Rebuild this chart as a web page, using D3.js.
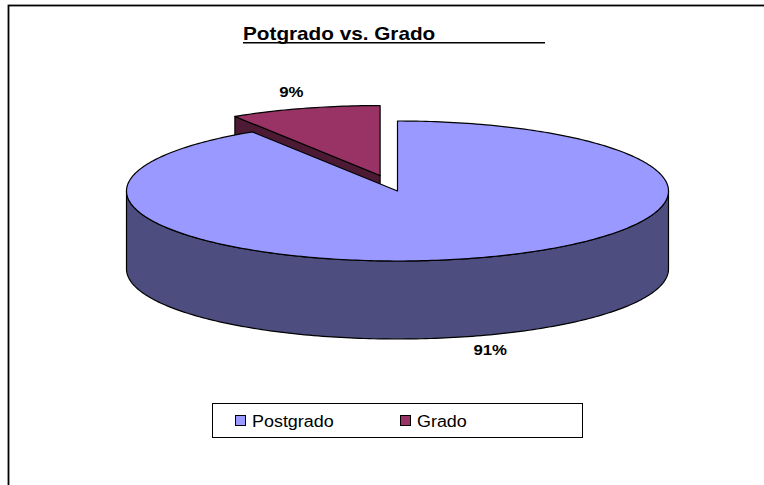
<!DOCTYPE html>
<html>
<head>
<meta charset="utf-8">
<script src="https://cdn.jsdelivr.net/npm/d3@7"></script>
<style>
  html, body { margin: 0; padding: 0; background: #fff; }
  svg { display: block; }
  text { font-family: "Liberation Sans", Arial, sans-serif; fill: #000; }
</style>
</head>
<body>
<svg id="chart" width="764" height="485"></svg>
<script>
// chart data
const categories = ['Postgrado', 'Grado'];
const values = [91, 9];
const chartTitle = 'Potgrado vs. Grado';

// look
const topColors = ['#9999ff', '#993366'];
const sideColors = ['#4d4d7f', '#4d1a33'];
const exploded = { Grado: 0.23 };
const stretchX = 1.12; // the original text is drawn a bit wide

var svg = d3.select('#chart');
var cs = { cx: 397.5, cy: 191, rx: 271, ry: 70, depth: 78 };

// outer frame (runs past the right and bottom edges)
svg.append('rect')
  .attr('x', 8.5).attr('y', 5.5)
  .attr('width', 900).attr('height', 700)
  .attr('fill', 'none')
  .attr('stroke', '#000')
  .attr('stroke-width', 1.8);

var stretch = sel => {
  sel.each(function () {
    var len = this.getComputedTextLength();
    d3.select(this)
      .attr('textLength', len * stretchX)
      .attr('lengthAdjust', 'spacingAndGlyphs');
  });
  return sel;
};

// title
svg.append('text')
  .attr('x', 243).attr('y', 39.5)
  .attr('font-size', 18.5)
  .attr('font-weight', 'bold')
  .text(chartTitle)
  .call(stretch);
svg.append('line')
  .attr('x1', 243).attr('x2', 545)
  .attr('y1', 42.8).attr('y2', 42.8)
  .attr('stroke', '#000')
  .attr('stroke-width', 1.6);

/**
 * 3D pie helpers: angles follow d3.pie (0 at 12 o'clock, clockwise)
 */
var pie = d3.pie().sort(null).value(d => d.value);
var slices = pie(categories.map((c, i) => ({ name: c, value: values[i], i: i })));
var total = d3.sum(values);
var pct = d3.format('.0%');
var line = d3.line();

var pt = (a, off, dy) => [
  cs.cx + off[0] + cs.rx * Math.sin(a),
  cs.cy + off[1] - cs.ry * Math.cos(a) + (dy || 0)
];
var arcPts = (a0, a1, off, dy) => {
  var n = Math.max(2, Math.ceil(Math.abs(a1 - a0) / (Math.PI / 180)));
  return d3.range(n + 1).map(k => pt(a0 + (a1 - a0) * k / n, off, dy));
};

slices.forEach(s => {
  var mid = (s.startAngle + s.endAngle) / 2;
  var e = exploded[s.data.name] || 0;
  s.mid = mid;
  s.off = [cs.rx * e * Math.sin(mid), -cs.ry * e * Math.cos(mid)];
});

// back slices first
var order = slices.slice().sort((a, b) => Math.cos(b.mid) - Math.cos(a.mid));

var g = svg.append('g');
order.forEach(s => {
  var c0 = [cs.cx + s.off[0], cs.cy + s.off[1]];
  var c1 = [c0[0], c0[1] + cs.depth];
  var faces = [];

  // radial faces that turn towards the viewer
  if (Math.sin(s.startAngle) < -1e-6) {
    var p = pt(s.startAngle, s.off);
    faces.push([c0, p, [p[0], p[1] + cs.depth], c1]);
  }
  if (Math.sin(s.endAngle) > 1e-6) {
    var q = pt(s.endAngle, s.off);
    faces.push([c0, q, [q[0], q[1] + cs.depth], c1]);
  }
  // curved outer side, front half only
  var a = Math.max(s.startAngle, Math.PI / 2), b = Math.min(s.endAngle, 3 * Math.PI / 2);
  if (a < b) {
    faces.push(arcPts(a, b, s.off).concat(arcPts(b, a, s.off, cs.depth)));
  }

  g.selectAll(null)
    .data(faces)
    .enter()
    .append('path')
    .attr('d', d => line(d) + 'Z')
    .attr('fill', sideColors[s.data.i])
    .attr('stroke', '#000')
    .attr('stroke-width', 1.2)
    .attr('stroke-linejoin', 'round');

  g.append('path')
    .attr('d', line([c0].concat(arcPts(s.startAngle, s.endAngle, s.off))) + 'Z')
    .attr('fill', topColors[s.data.i])
    .attr('stroke', '#000')
    .attr('stroke-width', 1.2)
    .attr('stroke-linejoin', 'round');
});

// data labels
svg.selectAll('.lbl')
  .data(slices)
  .enter()
  .append('text')
  .attr('class', 'lbl')
  .attr('x', d => cs.cx + d.off[0] + cs.rx * 1.2 * Math.sin(d.mid) + 2)
  .attr('y', d => cs.cy + d.off[1] - cs.ry * 1.2 * Math.cos(d.mid) + (Math.cos(d.mid) < 0 ? cs.depth : -3) + 5)
  .attr('text-anchor', 'middle')
  .attr('font-size', 15)
  .attr('font-weight', 'bold')
  .text(d => pct(d.data.value / total))
  .call(stretch);

// legend
var legend = svg.append('g');
legend.append('rect')
  .attr('x', 212.5).attr('y', 403.5)
  .attr('width', 370).attr('height', 34)
  .attr('fill', '#fff')
  .attr('stroke', '#000')
  .attr('stroke-width', 1);

var lx = d3.scalePoint().domain(categories).range([235, 400]);
var item = legend.selectAll('.item')
  .data(categories)
  .enter()
  .append('g')
  .attr('class', 'item')
  .attr('transform', d => 'translate(' + lx(d) + ',415)');
item.append('rect')
  .attr('x', 0.5).attr('y', 0.5)
  .attr('width', 10).attr('height', 10)
  .attr('fill', (d, i) => topColors[i])
  .attr('stroke', '#000')
  .attr('stroke-width', 1);
item.append('text')
  .attr('x', 17).attr('y', 11.5)
  .attr('font-size', 16)
  .text(d => d)
  .call(stretch);
</script>
</body>
</html>
